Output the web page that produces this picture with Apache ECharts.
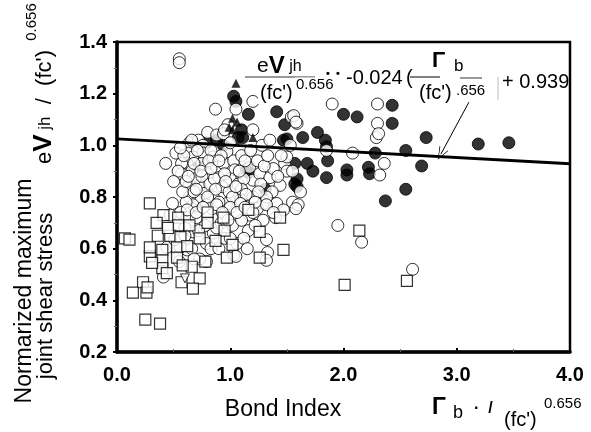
<!DOCTYPE html>
<html>
<head>
<meta charset="utf-8">
<script src="https://cdn.jsdelivr.net/npm/echarts@6/dist/echarts.min.js"></script>
<style>
  html, body { margin: 0; padding: 0; background: #fff; }
  #chart { width: 591px; height: 432px; }
</style>
</head>
<body>
<div id="chart"></div>
<script>
// Bond index vs normalized joint shear stress, [bond index, stress]
const openCircles = [
  [0.55,1.335],[0.55,1.32],[0.43,0.93],[0.87,1.14],[1.05,1.14],[1.2,1.17],[1.2,1.06],[0.98,1.08],
  [0.8,1.05],[0.88,1.04],[0.94,1.045],[0.64,1.01],[0.72,1.02],[0.76,1.0],[1.54,1.11],[1.59,1.085],
  [1.9,1.16],[2.3,1.16],[2.3,1.085],[2.29,1.03],[2.31,1.045],[1.85,0.98],[2.08,0.97],[2.32,0.885],
  [2.36,0.93],[1.48,0.93],[1.5,0.9],[1.95,0.69],[2.16,0.625],[2.61,0.52],[1.5,0.955],[1.55,0.9],
  [1.53,1.0],[0.66,1.02],[0.63,0.97],[0.67,0.955],[0.62,0.93],[0.6,0.89],[0.66,0.9],[0.64,0.85],
  [0.73,0.845],[0.78,0.915],[0.76,0.97],[0.85,0.955],[0.8,0.89],[0.88,0.915],[0.97,0.975],[0.94,0.93],
  [1.03,0.94],[1.04,0.905],[1.0,0.87],[0.9,0.875],[0.93,0.84],[0.85,0.8],[0.78,0.815],[0.72,0.79],
  [0.64,0.8],[0.73,0.75],[0.84,0.755],[0.97,0.775],[1.09,0.79],[1.17,0.915],[1.2,0.865],[1.26,0.89],
  [1.35,0.875],[1.38,0.91],[1.44,0.845],[1.37,0.82],[1.2,0.8],[1.29,0.775],[1.41,0.775],[0.57,0.93],
  [0.57,0.89],[0.56,0.74],[0.49,0.775],[0.62,0.72],[0.7,0.72],[1.47,0.75],[0.69,0.87],[0.75,0.88],
  [0.82,0.85],[0.86,0.87],[0.95,0.89],[1.07,0.85],[1.12,0.87],[1.1,0.83],[1.14,0.81],[0.99,0.82],
  [1.02,0.8],[0.9,0.78],[0.79,0.77],[0.67,0.77],[0.61,0.78],[0.58,0.82],[0.68,0.82],[0.75,0.93],
  [0.83,0.98],[0.92,0.96],[1.0,1.01],[1.1,0.96],[1.13,0.94],[1.08,0.9],[1.24,0.94],[1.3,0.92],
  [1.33,0.96],[1.42,0.88],[1.27,0.85],[1.32,0.8],[1.25,0.82],[0.62,0.75],[0.7,0.74],[0.88,0.77],
  [1.0,0.76],[1.09,0.775],[1.17,0.73],[1.16,0.67],[1.24,0.755],[1.32,0.77],[1.32,0.635],[1.33,0.585],
  [1.32,0.555],[0.67,0.665],[0.79,0.62],[0.85,0.66],[0.62,0.595],[0.79,0.55],[0.56,0.605],[1.03,0.575],
  [1.05,0.57],[1.29,0.71],[0.44,0.605],[0.41,0.49],[0.51,0.635],[0.73,0.56],[1.06,0.62],[0.92,0.7],
  [1.02,0.69],[1.1,0.71],[1.22,0.69],[0.78,0.69],[0.6,0.68],[0.95,0.64],[1.12,0.64],[1.4,0.72],
  [0.55,0.55],[0.66,0.6],[1.55,0.78],[1.6,0.77],[1.58,0.755],[1.62,0.82],[1.56,1.115],[1.58,1.09],
  [0.52,0.97],[0.54,0.9],[0.59,0.96],[0.61,0.86],[0.68,0.93],[0.71,0.98],[0.74,0.9],[0.81,0.94],
  [0.83,0.91],[0.9,0.94],[0.96,0.86],[1.05,0.84],[0.87,0.83],[0.8,0.8],[0.7,0.83],[0.76,0.76],
  [0.93,0.74],[1.06,0.74],[1.13,0.76],[1.2,0.74],[0.98,0.71],[0.88,0.68],[0.72,0.67],[0.83,0.6],
  [0.9,0.6],[1.0,0.64],[1.15,0.6],[0.68,0.56],[0.6,0.65],[0.47,0.73],[0.5,0.86],[0.63,0.88],
  [1.18,0.98],[1.28,1.0],[1.35,1.02],[0.95,1.06],[1.22,0.78],[1.38,0.74],[1.45,0.96],[0.56,0.99]
];
const filledCircles = [
  [0.71,0.92],[0.79,1.01],[0.94,1.0],[1.03,1.19],[1.05,1.17],[1.16,1.12],[1.07,1.03],[1.11,1.03],
  [1.15,0.91],[1.16,0.895],[1.31,0.83],[1.41,1.13],[1.48,1.08],[1.47,1.02],[1.5,1.025],[1.57,0.85],
  [1.59,0.87],[1.59,0.84],[1.64,1.03],[1.77,1.05],[1.84,1.02],[1.85,0.995],[1.86,0.94],[1.68,0.93],
  [1.73,0.9],[1.57,0.93],[1.85,0.875],[2.03,0.905],[2.03,0.885],[2.22,0.915],[2.23,0.89],[2.28,0.97],
  [2.0,1.12],[2.12,1.11],[2.43,1.155],[2.43,1.085],[2.73,1.03],[3.19,1.005],[3.46,1.01],[2.55,0.98],
  [2.69,0.92],[2.55,0.83],[2.37,0.785],[1.1,1.06],[0.88,1.02]
];
const openSquares = [
  [0.29,0.775],[0.41,0.73],[0.54,0.72],[0.35,0.70],[0.54,0.69],[0.64,0.69],[0.8,0.74],[0.8,0.70],
  [0.94,0.72],[0.95,0.67],[1.16,0.75],[1.26,0.665],[0.36,0.65],[0.47,0.65],[0.56,0.645],[0.73,0.64],
  [0.87,0.63],[1.02,0.615],[0.4,0.595],[0.53,0.605],[0.29,0.57],[0.4,0.555],[0.53,0.565],[0.97,0.565],
  [1.26,0.565],[0.78,0.55],[0.66,0.53],[0.58,0.535],[0.4,0.525],[0.44,0.505],[0.73,0.485],[0.57,0.47],
  [0.67,0.445],[0.23,0.47],[0.14,0.43],[0.26,0.43],[0.27,0.45],[0.25,0.325],[0.38,0.31],[0.07,0.64],
  [0.11,0.635],[0.29,0.605],[0.31,0.545],[0.45,0.68],[0.62,0.61],[1.44,0.72],[1.47,0.595],[2.14,0.67],
  [2.56,0.475],[2.01,0.46]
];
const filledTriangles = [[1.05,1.24],[1.02,1.105],[1.06,1.09],[1.02,1.06],[0.99,1.07],[1.2,1.03]];
const openDownTriangles = [[0.6,0.485]];

// Regression line: slope from the fitted equation
const fitSlope = -0.024;
const fitIntercept = 1.025;
const fitRange = [0, 4];

const xTickLabels = ['0.0', '1.0', '2.0', '3.0', '4.0'];
const yTickLabels = ['0.2', '0.4', '0.6', '0.8', '1.0', '1.2', '1.4'];

// Arrow from the equation to the fitted line, [bond index, stress]
const arrowFrom = [3.107, 1.167];
const arrowTo = [2.86, 0.966];

const FONT = "'Liberation Sans', Arial, sans-serif";
const chart = echarts.init(document.getElementById('chart'));

const fitData = fitRange.map(x => [x, fitIntercept + fitSlope * x]);

// thin open "V" arrow head, tip pointing up
const ARROW_HEAD = 'path://M0,0 L5,12 L4.2,12 L0,1.6 L-4.2,12 L-5,12 Z';

// rich-text piece: line box as tall as its own font, bottoms aligned;
// `lift` raises a smaller piece back onto the shared baseline
const rt = (weight, size, lift) => ({
  fontFamily: FONT, fontSize: size, fontWeight: weight, color: '#000',
  lineHeight: size, verticalAlign: 'bottom', padding: [0, 0, lift || 0, 0]
});

chart.setOption({
  backgroundColor: '#fff',
  animation: false,
  grid: { left: 117, right: 21, top: 42, bottom: 80, show: true, borderColor: '#000', borderWidth: 2.5, backgroundColor: 'transparent' },
  xAxis: {
    type: 'value', min: 0, max: 4, interval: 1,
    axisLine: { show: true, onZero: false, lineStyle: { color: '#000', width: 3.5 } },
    axisTick: { show: true, inside: true, length: 4, lineStyle: { color: '#000', width: 2 } },
    minorTick: { show: true, splitNumber: 2, length: 3, lineStyle: { color: '#666', width: 1 } },
    splitLine: { show: false },
    axisLabel: {
      margin: 13, color: '#000', fontFamily: FONT, fontWeight: 'bold', fontSize: 20,
      formatter: v => xTickLabels[Math.round(v)]
    }
  },
  yAxis: {
    type: 'value', min: 0.2, max: 1.4, interval: 0.2,
    axisLine: { show: true, onZero: false, lineStyle: { color: '#000', width: 3.5 } },
    axisTick: { show: true, inside: false, length: 4, lineStyle: { color: '#000', width: 2 } },
    minorTick: { show: true, splitNumber: 2, length: 3, lineStyle: { color: '#666', width: 1 } },
    splitLine: { show: false },
    axisLabel: {
      margin: 10, color: '#000', fontFamily: FONT, fontWeight: 'bold', fontSize: 20,
      formatter: v => yTickLabels[Math.round((v - 0.2) / 0.2)]
    }
  },
  series: [
    {
      type: 'scatter', data: filledCircles, symbol: 'circle', symbolSize: 12, z: 2,
      itemStyle: { color: '#000', borderColor: '#000', borderWidth: 1 }
    },
    {
      type: 'scatter', data: openCircles, symbol: 'circle', symbolSize: 12, z: 3,
      itemStyle: { color: '#fff', borderColor: '#000', borderWidth: 1 }
    },
    {
      type: 'scatter', data: openSquares, symbol: 'rect', symbolSize: 11, z: 4,
      itemStyle: { color: '#fff', borderColor: '#000', borderWidth: 1.2 }
    },
    {
      type: 'scatter', data: filledTriangles, symbol: 'triangle', symbolSize: 9, z: 5,
      itemStyle: { color: '#000' }
    },
    {
      type: 'scatter', data: openDownTriangles, symbol: 'triangle', symbolRotate: 180, symbolSize: 9, z: 5,
      itemStyle: { color: '#fff', borderColor: '#000', borderWidth: 1 }
    },
    {
      type: 'line', data: fitData, showSymbol: false, z: 6,
      lineStyle: { color: '#000', width: 3 },
      markLine: {
        silent: true, symbol: ['none', ARROW_HEAD], symbolSize: [10, 13],
        lineStyle: { color: '#000', width: 1, type: 'solid' },
        label: { show: false },
        data: [[{ coord: arrowFrom }, { coord: arrowTo }]]
      }
    }
  ],
  graphic: [
    // y-axis title
    { type: 'text', x: 25, y: 291, rotation: Math.PI / 2,
      style: { text: 'Normarized maximum', font: '23px ' + FONT, fill: '#000', align: 'center', verticalAlign: 'middle' } },
    { type: 'text', x: 46, y: 296, rotation: Math.PI / 2,
      style: { text: 'joint shear stress', font: '22px ' + FONT, fill: '#000', align: 'center', verticalAlign: 'middle' } },
    { type: 'text', x: 44, y: 164, rotation: Math.PI / 2,
      style: {
        text: '{e|e}{v|V}{s| jh}{n|  /  (fc\')}',
        align: 'left', verticalAlign: 'middle', fill: '#000',
        rich: { e: rt('normal', 22, 1), v: rt('bold', 26), s: rt('normal', 17, 3), n: rt('normal', 22, 1) }
      } },
    { type: 'text', x: 32, y: 22, rotation: Math.PI / 2,
      style: { text: '0.656', font: '15px ' + FONT, fill: '#000', align: 'center', verticalAlign: 'middle' } },

    // x-axis title
    { type: 'text', x: 283, y: 410,
      style: { text: 'Bond Index', font: '23px ' + FONT, fill: '#000', align: 'center', verticalAlign: 'middle' } },
    { type: 'text', x: 432, y: 408,
      style: { text: 'Γ', font: 'bold 23px ' + FONT, fill: '#000', align: 'left', verticalAlign: 'middle' } },
    { type: 'text', x: 453, y: 413,
      style: { text: 'b', font: '18px ' + FONT, fill: '#000', align: 'left', verticalAlign: 'middle' } },
    { type: 'text', x: 474, y: 409,
      style: { text: '·  /', font: 'bold 16px ' + FONT, fill: '#000', align: 'left', verticalAlign: 'middle' } },
    { type: 'text', x: 504, y: 420,
      style: { text: '(fc\')', font: '20px ' + FONT, fill: '#000', align: 'left', verticalAlign: 'middle' } },
    { type: 'text', x: 544, y: 404,
      style: { text: '0.656', font: '15px ' + FONT, fill: '#000', align: 'left', verticalAlign: 'middle' } },

    // fitted equation
    { type: 'text', x: 257, y: 66, z: 20,
      style: {
        text: '{e|e}{v|V}{s| jh}', align: 'left', verticalAlign: 'middle',
        rich: { e: rt('normal', 21, 1), v: rt('bold', 24), s: rt('normal', 16, 3) }
      } },
    { type: 'line', z: 20, shape: { x1: 245, y1: 77, x2: 315, y2: 77 }, style: { stroke: '#777', lineWidth: 1.5 } },
    { type: 'text', x: 258, y: 93, z: 20,
      style: { text: '(fc\')', font: '20px ' + FONT, fill: '#000', align: 'left', verticalAlign: 'middle',
               backgroundColor: '#fff', padding: [1, 2, 1, 2] } },
    { type: 'text', x: 295, y: 85, z: 20,
      style: { text: '0.656', font: '15px ' + FONT, fill: '#000', align: 'left', verticalAlign: 'middle',
               backgroundColor: '#fff', padding: [0, 1, 0, 1] } },
    { type: 'text', x: 326, y: 74, z: 21,
      style: { text: '•  •', font: 'bold 11px ' + FONT, fill: '#000', align: 'left', verticalAlign: 'middle' } },
    { type: 'text', x: 346, y: 78, z: 20,
      style: { text: '-0.024', font: '20px ' + FONT, fill: '#000', align: 'left', verticalAlign: 'middle' } },
    { type: 'text', x: 406, y: 78, z: 20,
      style: { text: '(', font: '20px ' + FONT, fill: '#000', align: 'left', verticalAlign: 'middle' } },
    { type: 'line', z: 20, shape: { x1: 410, y1: 77, x2: 440, y2: 77 }, style: { stroke: '#000', lineWidth: 1 } },
    { type: 'line', z: 20, shape: { x1: 460, y1: 78, x2: 482, y2: 78 }, style: { stroke: '#777', lineWidth: 1.5 } },
    { type: 'text', x: 432, y: 61, z: 20,
      style: { text: 'Γ', font: 'bold 22px ' + FONT, fill: '#000', align: 'left', verticalAlign: 'middle' } },
    { type: 'text', x: 454, y: 66, z: 20,
      style: { text: 'b', font: '17px ' + FONT, fill: '#000', align: 'left', verticalAlign: 'middle' } },
    { type: 'text', x: 417, y: 93, z: 20,
      style: { text: '(fc\')', font: '20px ' + FONT, fill: '#000', align: 'left', verticalAlign: 'middle',
               backgroundColor: '#fff', padding: [1, 2, 1, 2] } },
    { type: 'text', x: 455, y: 91, z: 20,
      style: { text: '.656', font: '15px ' + FONT, fill: '#000', align: 'left', verticalAlign: 'middle',
               backgroundColor: '#fff', padding: [0, 1, 0, 1] } },
    { type: 'line', z: 20, shape: { x1: 498, y1: 77, x2: 498, y2: 100 }, style: { stroke: '#bbb', lineWidth: 1 } },
    { type: 'text', x: 502, y: 82, z: 20,
      style: { text: '+ 0.939', font: '20px ' + FONT, fill: '#000', align: 'left', verticalAlign: 'middle' } }
  ]
});
</script>
</body>
</html>
